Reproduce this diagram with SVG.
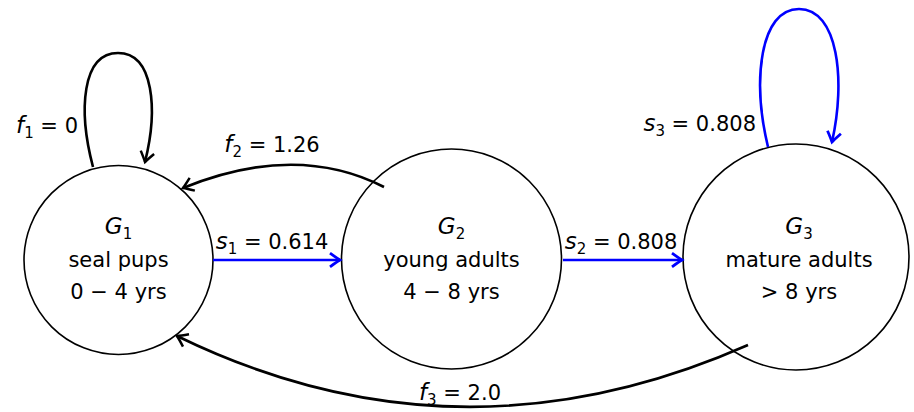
<svg xmlns="http://www.w3.org/2000/svg" width="914" height="412" viewBox="0 0 914 412">
<style>
  .node { fill: #fff; stroke: #000; stroke-width: 1.6; }
  text { font-family: "DejaVu Sans", "Liberation Sans", sans-serif; font-size: 21px; fill: #000; }
  .it { font-style: italic; }
  .big { font-size: 23px; }
  .edge { fill: none; stroke: #000; stroke-width: 2.6; }
  .blue { stroke: #0000ff; }
</style>
<defs>
  <marker id="ak" markerUnits="userSpaceOnUse" markerWidth="20" markerHeight="20" viewBox="-12 -8 16 16" refX="0" refY="0" orient="auto">
    <path d="M-8,-5.5 Q-2.5,-1.5 0,0 Q-2.5,1.5 -8,5.5" fill="none" stroke="#000" stroke-width="2"/>
  </marker>
  <marker id="ab" markerUnits="userSpaceOnUse" markerWidth="20" markerHeight="20" viewBox="-12 -8 16 16" refX="0" refY="0" orient="auto">
    <path d="M-8,-5.5 Q-2.5,-1.5 0,0 Q-2.5,1.5 -8,5.5" fill="none" stroke="#0000ff" stroke-width="2.2"/>
  </marker>
</defs>

<g id="G1">
  <circle class="node" cx="118.5" cy="260" r="94.5"/>
  <text x="118.5" y="234" text-anchor="middle"><tspan class="it big">G</tspan><tspan font-size="15" dy="5">1</tspan></text>
  <text x="118.5" y="267" text-anchor="middle">seal pups</text>
  <text x="118.5" y="299" text-anchor="middle">0 − 4 yrs</text>
</g>
<g id="G2">
  <circle class="node" cx="451.5" cy="259" r="110"/>
  <text x="451.5" y="234" text-anchor="middle"><tspan class="it big">G</tspan><tspan font-size="15" dy="5">2</tspan></text>
  <text x="451.5" y="267" text-anchor="middle">young adults</text>
  <text x="451.5" y="299" text-anchor="middle">4 − 8 yrs</text>
</g>
<g id="G3">
  <circle class="node" cx="796" cy="257" r="113"/>
  <text x="799" y="234" text-anchor="middle"><tspan class="it big">G</tspan><tspan font-size="15" dy="5">3</tspan></text>
  <text x="799" y="267" text-anchor="middle">mature adults</text>
  <text x="799" y="299" text-anchor="middle">&gt; 8 yrs</text>
</g>

<g id="connectors">
  <path class="edge" d="M93,167 C78,110 82,53 118,53 C154,53 158,110 145,162" marker-end="url(#ak)"/>
  <path class="edge" d="M384,187 Q296,142 183,188" marker-end="url(#ak)"/>
  <path class="edge blue" d="M213,260 L340,260" marker-end="url(#ab)"/>
  <path class="edge blue" d="M563,260 L682,260" marker-end="url(#ab)"/>
  <path class="edge blue" d="M768,147 C752,80 760,9 799,9 C838,9 846,80 832,142" marker-end="url(#ab)"/>
  <path class="edge" d="M748,345 Q458,473 177,336" marker-end="url(#ak)"/>
</g>

<g id="labels">
  <text x="78" y="133" text-anchor="end"><tspan class="it big">f</tspan><tspan font-size="15" dy="5">1</tspan><tspan dy="-5"> = 0</tspan></text>
  <text x="272" y="152" text-anchor="middle"><tspan class="it big">f</tspan><tspan font-size="15" dy="5">2</tspan><tspan dy="-5"> = 1.26</tspan></text>
  <text x="272" y="249" text-anchor="middle"><tspan class="it big">s</tspan><tspan font-size="15" dy="5">1</tspan><tspan dy="-5"> = 0.614</tspan></text>
  <text x="621" y="249" text-anchor="middle"><tspan class="it big">s</tspan><tspan font-size="15" dy="5">2</tspan><tspan dy="-5"> = 0.808</tspan></text>
  <text x="756" y="131" text-anchor="end"><tspan class="it big">s</tspan><tspan font-size="15" dy="5">3</tspan><tspan dy="-5"> = 0.808</tspan></text>
  <text x="460" y="400" text-anchor="middle"><tspan class="it big">f</tspan><tspan font-size="15" dy="5">3</tspan><tspan dy="-5"> = 2.0</tspan></text>
</g>
</svg>
